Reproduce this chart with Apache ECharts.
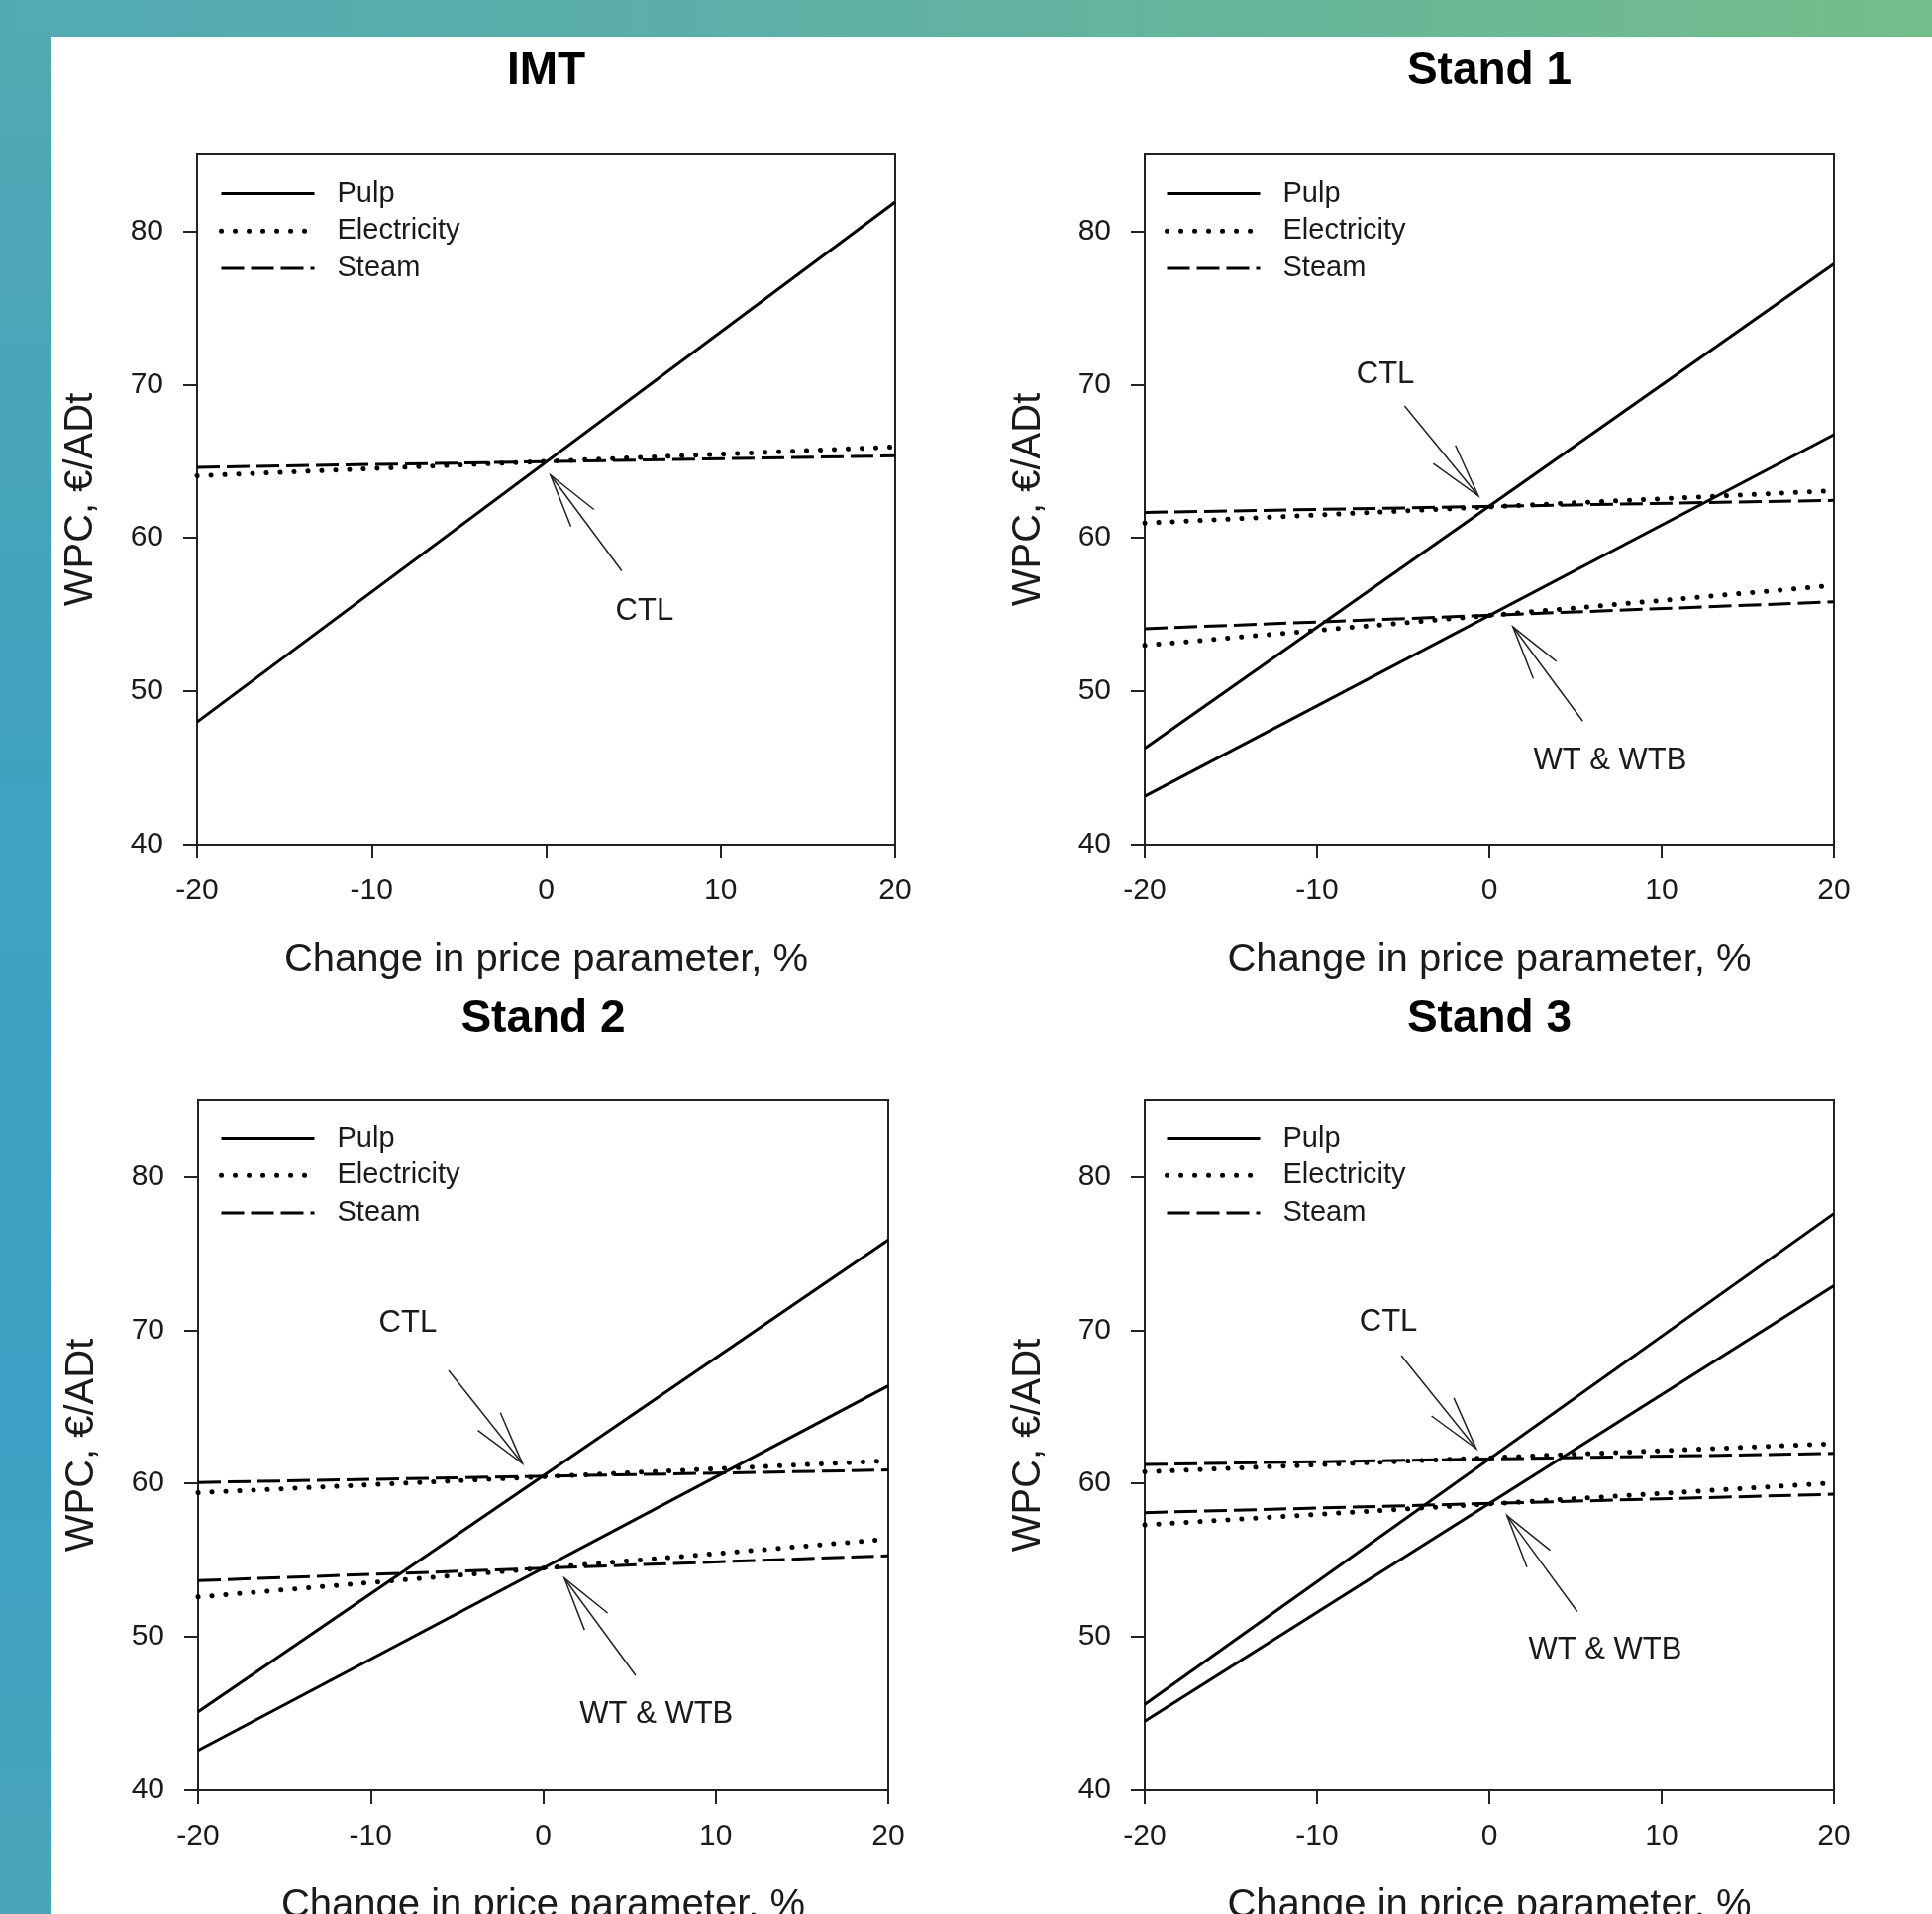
<!DOCTYPE html>
<html><head><meta charset="utf-8">
<script src="https://cdn.jsdelivr.net/npm/echarts@6/dist/echarts.min.js"></script>
<style>
html,body{margin:0;padding:0;width:1951px;height:1933px;overflow:hidden;}
body{background:linear-gradient(to bottom,#52a9b2 0%,#40a1bf 40%,#3d9fc3 75%,#4aa5b9 100%);}
#top{position:absolute;left:0;top:0;width:1951px;height:37px;background:linear-gradient(to right,#52a9b3 0%,#5cafa9 35%,#66b59a 65%,#74bd8a 100%);}
#panel{position:absolute;left:52px;top:37px;right:0;bottom:0;background:#fff;}
#chart{position:absolute;left:0;top:0;width:1951px;height:1933px;}
</style></head>
<body><div id="top"></div><div id="panel"></div><div id="chart"></div>
<script>
// ---------- data ----------
const xPoints = [-20, 20];
const xTicks = [-20, -10, 0, 10, 20];
const yTicks = [40, 50, 60, 70, 80];
const panelTitles = ['IMT', 'Stand 1', 'Stand 2', 'Stand 3'];
const legendNames = ['Pulp', 'Electricity', 'Steam'];
const xAxisTitle = 'Change in price parameter, %';
const yAxisTitle = 'WPC, €/ADt';

// WPC values at x = -20 and x = +20
const imtPulp = [48.0, 81.9];
const imtElectricity = [64.05, 65.93];
const imtSteam = [64.6, 65.35];

const s1CtlPulp = [46.28, 77.87];
const s1CtlElectricity = [60.97, 63.08];
const s1CtlSteam = [61.66, 62.45];
const s1WtPulp = [43.16, 66.73];
const s1WtElectricity = [52.99, 56.9];
const s1WtSteam = [54.08, 55.83];

const s2CtlPulp = [45.11, 75.88];
const s2CtlElectricity = [59.4, 61.48];
const s2CtlSteam = [60.07, 60.88];
const s2WtPulp = [42.6, 66.37];
const s2WtElectricity = [52.6, 56.37];
const s2WtSteam = [53.67, 55.29];

const s3CtlPulp = [45.6, 77.6];
const s3CtlElectricity = [60.76, 62.6];
const s3CtlSteam = [61.24, 61.96];
const s3WtPulp = [44.5, 72.9];
const s3WtElectricity = [57.3, 60.04];
const s3WtSteam = [58.1, 59.3];

// annotations: [tailX, tailY, tipX, tipY, labelX, labelY]
const imtArrows = [[4.33, 57.85, 0.25, 64.1, 5.64, 55.2]];
const imtArrowLabels = ['CTL'];
const s1Arrows = [[-4.92, 68.6, -0.64, 62.74, -6.03, 70.65], [5.42, 48.05, 1.37, 54.2, 7.01, 45.46]];
const s1ArrowLabels = ['CTL', 'WT & WTB'];
const s2Arrows = [[-5.48, 67.37, -1.2, 61.3, -7.84, 70.47], [5.36, 47.49, 1.23, 53.82, 6.56, 44.91]];
const s2ArrowLabels = ['CTL', 'WT & WTB'];
const s3Arrows = [[-5.11, 68.34, -0.76, 62.27, -5.86, 70.54], [5.1, 51.65, 1.02, 57.91, 6.72, 49.17]];
const s3ArrowLabels = ['CTL', 'WT & WTB'];

// ---------- layout / style ----------
const FONT = '"Liberation Sans", Arial, sans-serif';
const INK = '#1a1a1a';
const grids = [
  {left: 199, top: 156, width: 705, height: 697},
  {left: 1156, top: 156, width: 696, height: 697},
  {left: 200, top: 1111, width: 697, height: 697},
  {left: 1156, top: 1111, width: 696, height: 697}
];
const legendPos = [[221, 181], [1176, 181], [221, 1135], [1176, 1135]];
const styles = {
  Pulp: {color: '#000', width: 3, type: 'solid', cap: 'butt'},
  Electricity: {color: '#000', width: 5, type: [0.1, 13.9], cap: 'round'},
  Steam: {color: '#000', width: 3, type: [23, 7], cap: 'butt'}
};

const panels = [
  {lines: [['Pulp', imtPulp], ['Electricity', imtElectricity], ['Steam', imtSteam]], arrows: imtArrows, labels: imtArrowLabels},
  {lines: [['Pulp', s1CtlPulp], ['Electricity', s1CtlElectricity], ['Steam', s1CtlSteam],
           ['Pulp', s1WtPulp], ['Electricity', s1WtElectricity], ['Steam', s1WtSteam]], arrows: s1Arrows, labels: s1ArrowLabels},
  {lines: [['Pulp', s2CtlPulp], ['Electricity', s2CtlElectricity], ['Steam', s2CtlSteam],
           ['Pulp', s2WtPulp], ['Electricity', s2WtElectricity], ['Steam', s2WtSteam]], arrows: s2Arrows, labels: s2ArrowLabels},
  {lines: [['Pulp', s3CtlPulp], ['Electricity', s3CtlElectricity], ['Steam', s3CtlSteam],
           ['Pulp', s3WtPulp], ['Electricity', s3WtElectricity], ['Steam', s3WtSteam]], arrows: s3Arrows, labels: s3ArrowLabels}
];

function arrowRenderer(labels) {
  return function (params, api) {
    const t = api.coord([api.value(0), api.value(1)]);
    const h = api.coord([api.value(2), api.value(3)]);
    const lp = api.coord([api.value(4), api.value(5)]);
    const ang = Math.atan2(t[1] - h[1], t[0] - h[0]);
    const L = 56, da = 15 * Math.PI / 180;
    const b1 = [h[0] + L * Math.cos(ang + da), h[1] + L * Math.sin(ang + da)];
    const b2 = [h[0] + L * Math.cos(ang - da), h[1] + L * Math.sin(ang - da)];
    return {
      type: 'group',
      children: [
        {type: 'line', shape: {x1: t[0], y1: t[1], x2: h[0], y2: h[1]}, style: {stroke: '#222', lineWidth: 1.5}},
        {type: 'polyline', shape: {points: [b1, h, b2]}, style: {stroke: '#222', lineWidth: 1.5, fill: null}},
        {type: 'text', x: lp[0], y: lp[1], style: {text: labels[params.dataIndex], fill: INK, font: '31px ' + FONT, align: 'center', verticalAlign: 'middle'}}
      ]
    };
  };
}

const option = {
  animation: false,
  backgroundColor: 'transparent',
  grid: grids.map(g => Object.assign({show: true, borderColor: '#222', borderWidth: 2, backgroundColor: 'transparent', containLabel: false, outerBoundsMode: 'none'}, g)),
  xAxis: grids.map((g, i) => ({
    gridIndex: i, type: 'value', min: xPoints[0], max: xPoints[1], interval: 10,
    axisLine: {onZero: false, lineStyle: {color: '#222', width: 2}},
    axisTick: {show: true, length: 14, lineStyle: {color: '#222', width: 2}, customValues: xTicks},
    axisLabel: {margin: 32, fontSize: 30, fontFamily: FONT, color: INK, customValues: xTicks},
    splitLine: {show: false},
    name: xAxisTitle, nameLocation: 'middle', nameGap: 97,
    nameTextStyle: {fontSize: 40, fontFamily: FONT, color: INK}
  })),
  yAxis: grids.map((g, i) => ({
    gridIndex: i, type: 'value', min: 40, max: 85, interval: 10,
    axisLine: {onZero: false, lineStyle: {color: '#222', width: 2}},
    axisTick: {show: true, length: 14, lineStyle: {color: '#222', width: 2}, customValues: yTicks},
    axisLabel: {margin: 34, fontSize: 30, fontFamily: FONT, color: INK, customValues: yTicks},
    splitLine: {show: false},
    name: yAxisTitle, nameLocation: 'middle', nameGap: 97, nameRotate: 90,
    nameTextStyle: {fontSize: 40, fontFamily: FONT, color: INK}
  })),
  legend: legendPos.map(p => ({
    orient: 'vertical', left: p[0], top: p[1], padding: 0,
    itemWidth: 94, itemHeight: 30, itemGap: 8.8, selectedMode: false,
    itemStyle: {color: 'rgba(0,0,0,0)', borderWidth: 0},
    textStyle: {fontSize: 29, fontFamily: FONT, color: INK, padding: [0, 0, 0, 18]},
    data: legendNames.map(n => ({name: n, lineStyle: {width: styles[n].width, type: styles[n].type, cap: styles[n].cap, color: '#000'}}))
  })),
  graphic: panelTitles.map((t, i) => ({
    type: 'text', x: grids[i].left + grids[i].width / 2, y: i < 2 ? 72 : 1029,
    style: {text: t, font: 'bold 46px ' + FONT, fill: '#000', align: 'center', verticalAlign: 'middle'}
  })),
  series: []
};

panels.forEach((p, i) => {
  p.lines.forEach(([name, vals]) => {
    const s = styles[name];
    option.series.push({
      type: 'line', name: name, xAxisIndex: i, yAxisIndex: i,
      data: xPoints.map((x, k) => [x, vals[k]]),
      symbol: 'none', showSymbol: false, silent: true, color: '#000',
      lineStyle: {color: s.color, width: s.width, type: s.type, cap: s.cap}
    });
  });
  option.series.push({
    type: 'custom', name: 'annot' + i, xAxisIndex: i, yAxisIndex: i,
    data: p.arrows, encode: {x: [0, 2, 4], y: [1, 3, 5]},
    renderItem: arrowRenderer(p.labels), silent: true, z: 5
  });
});

const chart = echarts.init(document.getElementById('chart'), null, {renderer: 'canvas'});
chart.setOption(option);
</script>
</body></html>
